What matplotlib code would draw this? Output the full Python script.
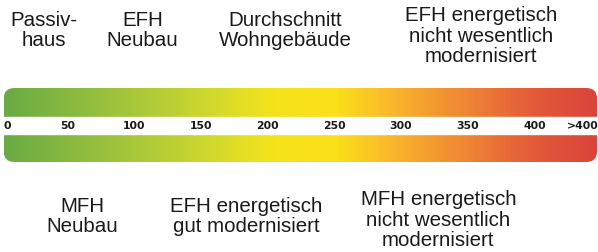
import numpy as np
import matplotlib.pyplot as plt
from matplotlib.colors import LinearSegmentedColormap
from matplotlib.patches import FancyBboxPatch

# scale values (kWh/m²a) and tick labels
tick_values = [0, 50, 100, 150, 200, 250, 300, 350, 400, 436]
tick_labels = ["0", "50", "100", "150", "200", "250", "300", "350", "400", ">400"]
scale_min, scale_max = 2, 447

# gradient stops along the scale
stop_values = [0, 60, 110, 160, 200, 250, 290, 340, 400, 447]
stop_colors = ["#6aab44", "#8fbc3e", "#b0cb38", "#d3da2a", "#f3e31c",
               "#fbe01a", "#f9b92a", "#f08c33", "#e35a3a", "#d9443a"]

# building types above / below the scale: label, x centre (scale units), top y (px)
top_labels = ["Passiv-\nhaus", "EFH\nNeubau", "Durchschnitt\nWohngebäude",
              "EFH energetisch\nnicht wesentlich\nmodernisiert"]
top_x = [32.5, 106, 213, 360]
top_y = [11, 11, 11, 6]
bottom_labels = ["MFH\nNeubau", "EFH energetisch\ngut modernisiert",
                 "MFH energetisch\nnicht wesentlich\nmodernisiert"]
bottom_x = [61, 184, 328]
bottom_y = [197, 197, 190]

fig = plt.figure(figsize=(5.98, 2.52), dpi=100)
ax = fig.add_axes([0, 0, 1, 1])
ax.set_xlim(-0.75, 447.75)
ax.set_ylim(252, 0)
ax.axis("off")

# gradient bar
pos = [(v - stop_values[0]) / (stop_values[-1] - stop_values[0]) for v in stop_values]
cmap = LinearSegmentedColormap.from_list("energy", list(zip(pos, stop_colors)))
grad = np.linspace(0, 1, 512).reshape(1, -1)
bar_top, bar_bot = 88, 162
img = ax.imshow(grad, cmap=cmap, aspect="auto",
                extent=(scale_min, scale_max, bar_bot, bar_top), zorder=1)
clip = FancyBboxPatch((scale_min, bar_top), scale_max - scale_min, bar_bot - bar_top,
                      boxstyle="round,pad=0,rounding_size=8",
                      mutation_aspect=1.333, transform=ax.transData,
                      facecolor="none", edgecolor="none")
ax.add_patch(clip)
img.set_clip_path(clip)

# white band with the scale numbers
ax.axhspan(117, 134, xmin=0, xmax=1, color="white", zorder=2)
for v, lab in zip(tick_values, tick_labels):
    ha = "left" if v == 0 else "center"
    ax.text(v + 2 if v == 0 else v, 126, lab, ha=ha, va="center",
            fontsize=7.8, fontweight="bold", family="DejaVu Sans",
            color="#1a1a1a", zorder=3)

for lab, x, y in zip(top_labels, top_x, top_y):
    ax.text(x, y, lab, ha="center", va="top", fontsize=14.8,
            family="Liberation Sans", color="#1a1a1a", linespacing=1.1)
for lab, x, y in zip(bottom_labels, bottom_x, bottom_y):
    ax.text(x, y, lab, ha="center", va="top", fontsize=14.8,
            family="Liberation Sans", color="#1a1a1a", linespacing=1.1)

fig.savefig("out.png", dpi=100)
